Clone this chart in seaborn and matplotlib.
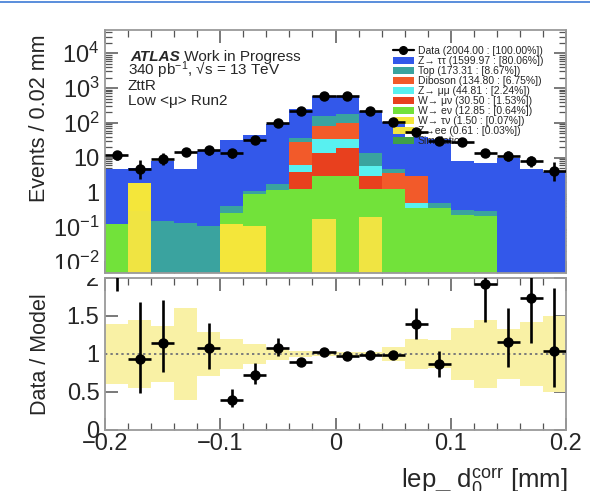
import numpy as np
import pandas as pd
import matplotlib
matplotlib.use("Agg")
import matplotlib.pyplot as plt
import matplotlib.ticker as mticker
from matplotlib.lines import Line2D
from matplotlib.patches import Patch, Rectangle
import seaborn as sns

# ---------------- data ----------------
bin_edges = [-0.20, -0.18, -0.16, -0.14, -0.12, -0.10, -0.08, -0.06, -0.04, -0.02,
             0.00, 0.02, 0.04, 0.06, 0.08, 0.10, 0.12, 0.14, 0.16, 0.18, 0.20]
bin_centers = [-0.19, -0.17, -0.15, -0.13, -0.11, -0.09, -0.07, -0.05, -0.03, -0.01,
               0.01, 0.03, 0.05, 0.07, 0.09, 0.11, 0.13, 0.15, 0.17, 0.19]

samples = ["Z→ττ", "Top", "Diboson", "Z→μμ", "W→μν", "W→eν", "W→τν", "Z→ee", "Simulation"]
legend_labels = ["Z→ ττ (1599.97 : [80.06%])", "Top (173.31 : [8.67%])",
                 "Diboson (134.80 : [6.75%])", "Z→ μμ (44.81 : [2.24%])",
                 "W→ μν (30.50 : [1.53%])", "W→ eν (12.85 : [0.64%])",
                 "W→ τν (1.50 : [0.07%])", "Z→ee (0.61 : [0.03%])", "Simulation"]
data_label = "Data (2004.00 : [100.00%])"
colors = ["#3358EA", "#3AA39F", "#F25A2A", "#58F0F0", "#E8401E",
          "#72E23A", "#F4E63A", "#F0E442", "#3F9F48"]

ztautau = [4.48, 3.0, 7.85, 4.47, 14.9, 32.6, 42.9, 90.3, 209, 425,
           416, 203, 102.4, 37, 33.5, 7.7, 6.9, 9.7, 4.6, 3.9]
top = [0, 0, 0.15, 0.13, 0.11, 0.14, 0.21, 0.55, 9.7, 77,
       76, 8.2, 1.1, 0, 0.12, 0.09, 0.09, 0, 0, 0]
diboson = [0, 0, 0, 0, 0, 0, 0, 0, 22, 47.3,
           66, 0, 2.28, 2.47, 0, 0, 0, 0, 0, 0]
zmumu = [0, 0, 0, 0, 0, 0, 0, 0, 2.15, 20.4,
         15.6, 2.75, 0, 0.12, 0, 0, 0, 0, 0, 0]
wmunu = [0, 0, 0, 0, 0, 0, 0, 0, 2.63, 10.35,
         16.45, 1.73, 0, 0, 0, 0, 0, 0, 0, 0]
wenu = [0.12, 0, 0, 0, 0, 0.14, 0.77, 1.15, 1.22, 2.78,
        2.95, 1.02, 1.22, 0.36, 0.36, 0.23, 0.21, 0, 0, 0]
wtaunu = [0, 1.6, 0, 0, 0, 0.12, 0.11, 0, 0, 0,
          0, 0, 0, 0, 0, 0, 0, 0, 0, 0]
zee = [0, 0.3, 0, 0, 0, 0, 0, 0, 0, 0.17,
       0, 0.2, 0, 0, 0, 0, 0, 0, 0, 0]
simulation = [0, 0, 0, 0, 0, 0, 0, 0, 0, 0,
              0, 0, 0, 0, 0, 0, 0, 0, 0, 0]

data = [11.5, 4.6, 9.2, 14.5, 16.1, 13.2, 32.1, 99.4, 219.6, 600.5,
        575, 214.7, 105.9, 55.6, 29.6, 28, 13.8, 11.2, 8.0, 4.06]
ratio_err_lo = [0.67, 0.45, 0.39, 0.8, 0.27, 0.10, 0.13, 0.11, 0.05, 0.03,
                0.03, 0.04, 0.05, 0.19, 0.17, 0.7, 0.5, 0.33, 0.59, 0.48]
ratio_err_hi = [0.8, 0.75, 0.56, 0.9, 0.33, 0.14, 0.15, 0.13, 0.05, 0.03,
                0.03, 0.04, 0.05, 0.21, 0.17, 0.8, 0.6, 0.45, 0.7, 0.83]
mc_unc = [0.4, 0.45, 0.37, 0.6, 0.29, 0.2, 0.13, 0.08, 0.04, 0.03,
          0.02, 0.03, 0.09, 0.2, 0.18, 0.34, 0.45, 0.33, 0.42, 0.5]

components = [ztautau, top, diboson, zmumu, wmunu, wenu, wtaunu, zee, simulation]

# ---------------- style ----------------
sns.set_style("ticks")
plt.rcParams["font.family"] = ["Liberation Sans", "DejaVu Sans"]
plt.rcParams["mathtext.fontset"] = "custom"
plt.rcParams["mathtext.rm"] = "Liberation Sans"
plt.rcParams["mathtext.it"] = "Liberation Sans:italic"
plt.rcParams["mathtext.bf"] = "Liberation Sans:bold"

W, H = 590, 491
fig = plt.figure(figsize=(5.9, 4.91), dpi=100)
ax1 = fig.add_axes([105 / W, 1 - 273 / H, 461 / W, 243 / H])
ax2 = fig.add_axes([105 / W, 1 - 430 / H, 461 / W, 152 / H])

# ---------------- upper panel ----------------
rows = []
for name, vals in zip(samples, components):
    for c, v in zip(bin_centers, vals):
        rows.append((c, v, name))
df = pd.DataFrame(rows, columns=["x", "w", "sample"])

sns.histplot(data=df, x="x", weights="w", hue="sample", hue_order=samples,
             palette=dict(zip(samples, colors)), multiple="stack", bins=bin_edges,
             element="bars", alpha=1, linewidth=0, edgecolor="none",
             legend=False, ax=ax1)
ax1.set_yscale("log")
ax1.set_xlim(-0.2, 0.2)
ax1.set_ylim(10 ** -2.32, 10 ** 4.67)

model = np.sum(np.array(components, dtype=float), axis=0)
data_arr = np.array(data)
rlo = np.array(ratio_err_lo)
rhi = np.array(ratio_err_hi)

ax1.errorbar(bin_centers, data_arr, xerr=0.01, yerr=[rlo * model, rhi * model],
             fmt="o", color="black", ms=6.5, elinewidth=1.9, capsize=0, zorder=10)

handles = [Line2D([], [], marker="o", color="black", ms=5.5, lw=1.6)]
handles += [Patch(facecolor=c, edgecolor="none") for c in colors]
ax1.legend(handles, [data_label] + legend_labels, loc="upper left",
           bbox_to_anchor=(393 / W, 1 - 46 / H), bbox_transform=fig.transFigure,
           frameon=False, fontsize=7.5, handlelength=2.0, handleheight=0.7,
           handletextpad=0.4, labelspacing=0.0, borderpad=0, borderaxespad=0)

ax1.set_yticks([1e-2, 1e-1, 1, 10, 100, 1e3, 1e4])
ax1.set_yticklabels(["10$^{-2}$", "10$^{-1}$", "1", "10", "10$^{2}$", "10$^{3}$", "10$^{4}$"])
ax1.yaxis.set_minor_locator(mticker.LogLocator(base=10, subs=np.arange(2, 10), numticks=20))
ax1.yaxis.set_minor_formatter(mticker.NullFormatter())
ax1.set_xlabel("")
ax1.set_ylabel("")
ax1.tick_params(labelbottom=False)

# ---------------- ratio panel ----------------
unc = np.array(mc_unc)
ratio = data_arr / model
ax2.bar(bin_centers, 2 * unc, bottom=1 - unc, width=0.02, color="#F9F1A5",
        linewidth=0, zorder=1)
ax2.axhline(1, color="#7a7a7a", ls=(0, (1.2, 1.6)), lw=1.4, zorder=2)
ax2.errorbar(bin_centers, ratio, xerr=0.01, yerr=[rlo, rhi], fmt="o", color="black",
             ms=6.5, elinewidth=1.9, capsize=0, zorder=10)
ax2.set_xlim(-0.2, 0.2)
ax2.set_ylim(0, 2)
ax2.set_yticks([0, 0.5, 1, 1.5, 2])
ax2.set_yticklabels(["0", "0.5", "1", "1.5", "2"])
ax2.set_xticks([-0.2, -0.1, 0, 0.1, 0.2])
ax2.set_xticklabels(["−0.2", "−0.1", "0", "0.1", "0.2"])

for ax in (ax1, ax2):
    ax.xaxis.set_minor_locator(mticker.MultipleLocator(0.02))
    ax.tick_params(which="both", direction="in", top=True, right=True,
                   color="#555555", labelsize=17, pad=4)
    ax.tick_params(which="major", length=9, width=1.1)
    ax.tick_params(which="minor", length=5, width=0.9)
    for s in ax.spines.values():
        s.set_color("#9a9a9a")
        s.set_linewidth(1.3)
ax2.tick_params(axis="x", pad=2)

# ---------------- texts ----------------
atlas = fig.text(130 / W, 1 - 60.7 / H, "ATLAS", fontsize=11, fontweight="bold",
                 fontstyle="italic", va="baseline", ha="left")
fig.canvas.draw()
ax1.annotate(" Work in Progress", xy=(1, 0), xycoords=atlas, fontsize=11,
             ha="left", va="bottom", annotation_clip=False)
fig.text(128 / W, 1 - 75.5 / H, "340 pb$^{-1}$, √s = 13 TeV", fontsize=11, va="baseline")
fig.text(128 / W, 1 - 90 / H, "ZttR", fontsize=11, va="baseline")
fig.text(128 / W, 1 - 105 / H, "Low <μ> Run2", fontsize=11, va="baseline")

fig.text(40 / W, 1 - 118 / H, "Events / 0.02 mm", rotation=90, fontsize=15.5,
         ha="center", va="center")
fig.text(40 / W, 1 - 354 / H, "Data / Model", rotation=90, fontsize=15.5,
         ha="center", va="center")
fig.text(568 / W, 1 - 488.5 / H, r"lep_ d$_{0}^{\mathrm{corr}}$ [mm]", fontsize=18.5,
         ha="right", va="baseline")

# clipped "2" label look and top decoration line
fig.patches.append(Rectangle((55 / W, 1 - 278 / H), 48 / W, 9.5 / H,
                             transform=fig.transFigure, facecolor="white",
                             edgecolor="none", zorder=20))
fig.lines.append(Line2D([0, 1], [1 - 2 / H, 1 - 2 / H], transform=fig.transFigure,
                        color="#3d7ad6", lw=1.2))

fig.savefig("out.png", dpi=100)
